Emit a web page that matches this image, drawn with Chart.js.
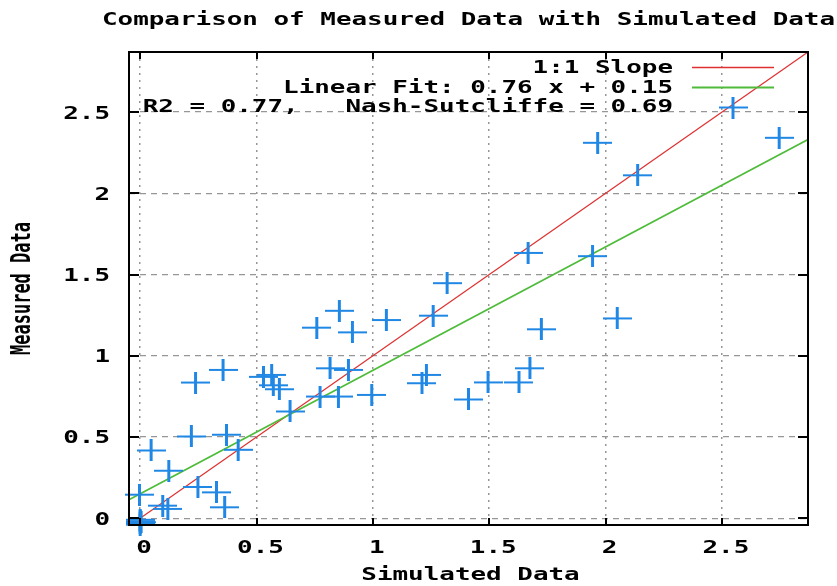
<!DOCTYPE html>
<html>
<head>
<meta charset="utf-8">
<script src="https://cdn.jsdelivr.net/npm/chart.js@4/dist/chart.umd.min.js"></script>
<style>
html,body{margin:0;padding:0;background:#fff;}
#wrap{width:837px;height:586px;position:relative;}
</style>
</head>
<body>
<div id="wrap"><canvas id="c" width="837" height="586"></canvas></div>
<script>
// ---- data ----
const chartTitle = "Comparison of Measured Data with Simulated Data";
const xAxisTitle = "Simulated Data";
const yAxisTitle = "Measured Data";
const legendLabels = ["1:1 Slope", "Linear Fit: 0.76 x + 0.15", "R2 = 0.77,   Nash-Sutcliffe = 0.69"];

const simulated = [0, 0, 0, 0, 0.004,
  -0.003, 0.047, 0.097, 0.119, 0.123, 0.22, 0.238, 0.248, 0.328, 0.356, 0.363, 0.371, 0.421,
  0.53, 0.565, 0.572, 0.598, 0.644, 0.759, 0.773, 0.816, 0.852, 0.856, 0.895, 0.912,
  0.995, 1.058, 1.211, 1.23, 1.259, 1.319, 1.411, 1.495, 1.628, 1.667, 1.675, 1.724,
  1.944, 1.966, 2.05, 2.138, 2.746];
const measured = [-0.01, -0.02, -0.03, -0.04, -0.025,
  0.145, 0.417, 0.077, 0.057, 0.292, 0.503, 0.835, 0.192, 0.159, 0.913, 0.067, 0.514, 0.421,
  0.87, 0.882, 0.818, 0.794, 0.657, 1.173, 0.749, 0.923, 0.749, 1.277, 0.913, 1.144,
  0.759, 1.22, 0.831, 0.882, 1.247, 1.447, 0.731, 0.836, 0.836, 1.633, 0.923, 1.163,
  1.613, 2.311, 1.23, 2.111, 2.342];

const axisMinX = -0.048, axisMaxX = 2.87;
const axisMinY = -0.042, axisMaxY = 2.87;
const slopeX = [0, 2.87];
const slopeY = [0, 2.87];
const fitX = [-0.048, 2.87];
const fitY = [0.1135, 2.331];

const xTickValues = [0, 0.5, 1, 1.5, 2, 2.5];
const xTickLabels = ["0", "0.5", "1", "1.5", "2", "2.5"];
const yTickValues = [0, 0.5, 1, 1.5, 2, 2.5];
const yTickLabels = ["0", "0.5", "1", "1.5", "2", "2.5"];

// ---- styles ----
const BLUE = 'rgb(32,136,228)';
const RED = 'rgb(222,48,48)';
const GREEN = 'rgb(78,188,58)';
const FONT = 'bold 17px "DejaVu Sans Mono"';
const SX = 1.524;

function makeCross() {
  const c = document.createElement('canvas');
  c.width = 29; c.height = 22;
  const g = c.getContext('2d');
  g.fillStyle = BLUE;
  g.fillRect(0, 10, 29, 2);
  g.fillRect(13, 0, 3, 22);
  return c;
}
const crossImg = makeCross();

function sText(ctx, txt, x, y, align) {
  ctx.save();
  ctx.translate(x, y);
  ctx.scale(SX, 1);
  ctx.font = FONT;
  ctx.fillStyle = '#000';
  ctx.textAlign = align;
  ctx.textBaseline = 'middle';
  ctx.fillText(txt, 0, 0);
  ctx.restore();
}

const decor = {
  id: 'decor',
  afterDatasetsDraw(chart) {
    const ctx = chart.ctx;
    const a = chart.chartArea;
    const xs = chart.scales.x, ys = chart.scales.y;
    ctx.save();
    ctx.strokeStyle = '#000';
    ctx.lineWidth = 2;
    ctx.strokeRect(a.left, a.top, a.right - a.left, a.bottom - a.top);
    ctx.beginPath();
    yTickValues.forEach(v => {
      const py = Math.round(ys.getPixelForValue(v));
      ctx.moveTo(a.left, py); ctx.lineTo(a.left + 10, py);
      ctx.moveTo(a.right, py); ctx.lineTo(a.right - 10, py);
    });
    xTickValues.forEach(v => {
      const px = Math.round(xs.getPixelForValue(v));
      ctx.moveTo(px, a.bottom); ctx.lineTo(px, a.bottom - 7);
      ctx.moveTo(px, a.top); ctx.lineTo(px, a.top + 7);
    });
    ctx.stroke();
    ctx.restore();

    yTickValues.forEach((v, i) => {
      sText(ctx, yTickLabels[i], 110, ys.getPixelForValue(v) + 2, 'right');
    });
    xTickValues.forEach((v, i) => {
      sText(ctx, xTickLabels[i], xs.getPixelForValue(v) + 4, 549, 'center');
    });
    sText(ctx, chartTitle, (a.left + a.right) / 2, 21, 'center');
    sText(ctx, xAxisTitle, (a.left + a.right) / 2 + 2, 576, 'center');
    ctx.save();
    ctx.translate(23, (a.top + a.bottom) / 2);
    ctx.scale(SX, 1);
    ctx.rotate(-Math.PI / 2);
    ctx.font = FONT;
    ctx.fillStyle = '#000';
    ctx.textAlign = 'center';
    ctx.textBaseline = 'middle';
    ctx.fillText(yAxisTitle, 0, 0);
    ctx.restore();

    const rows = [69, 88.5, 108];
    legendLabels.forEach((t, i) => sText(ctx, t, 673, rows[i], 'right'));
    ctx.save();
    ctx.lineWidth = 1.3;
    ctx.strokeStyle = RED;
    ctx.beginPath(); ctx.moveTo(692, 67.5); ctx.lineTo(774, 67.5); ctx.stroke();
    ctx.lineWidth = 1.8;
    ctx.strokeStyle = GREEN;
    ctx.beginPath(); ctx.moveTo(692, 87.5); ctx.lineTo(774, 87.5); ctx.stroke();
    ctx.drawImage(crossImg, 733 - 14.5, 107.5 - 11);
    ctx.restore();
  }
};

const ctx = document.getElementById('c').getContext('2d');
new Chart(ctx, {
  type: 'scatter',
  data: {
    datasets: [
      {
        label: legendLabels[2],
        data: simulated.map((x, i) => ({x: x, y: measured[i]})),
        pointStyle: crossImg,
        pointRadius: 12,
        showLine: false,
        clip: false
      },
      {
        label: legendLabels[1],
        type: 'line',
        data: fitX.map((x, i) => ({x: x, y: fitY[i]})),
        borderColor: GREEN,
        borderWidth: 1.6,
        pointRadius: 0,
        fill: false
      },
      {
        label: legendLabels[0],
        type: 'line',
        data: slopeX.map((x, i) => ({x: x, y: slopeY[i]})),
        borderColor: RED,
        borderWidth: 1.2,
        pointRadius: 0,
        fill: false
      }
    ]
  },
  options: {
    responsive: false,
    animation: false,
    layout: {padding: {left: 129, right: 29, top: 52, bottom: 61}},
    plugins: {legend: {display: false}, title: {display: false}, tooltip: {enabled: false}},
    scales: {
      x: {
        type: 'linear', min: axisMinX, max: axisMaxX,
        afterBuildTicks: s => { s.ticks = xTickValues.map(v => ({value: v})); },
        afterFit: s => { s.height = 0; },
        ticks: {display: false},
        grid: {color: 'rgb(150,150,150)', lineWidth: 1.5, drawTicks: false},
        border: {display: false, dash: [2, 5]}
      },
      y: {
        type: 'linear', min: axisMinY, max: axisMaxY,
        afterBuildTicks: s => { s.ticks = yTickValues.map(v => ({value: v})); },
        afterFit: s => { s.width = 0; },
        ticks: {display: false},
        grid: {color: 'rgb(150,150,150)', lineWidth: 1.2, drawTicks: false},
        border: {display: false, dash: [6, 5]}
      }
    }
  },
  plugins: [decor]
});
</script>
</body>
</html>
